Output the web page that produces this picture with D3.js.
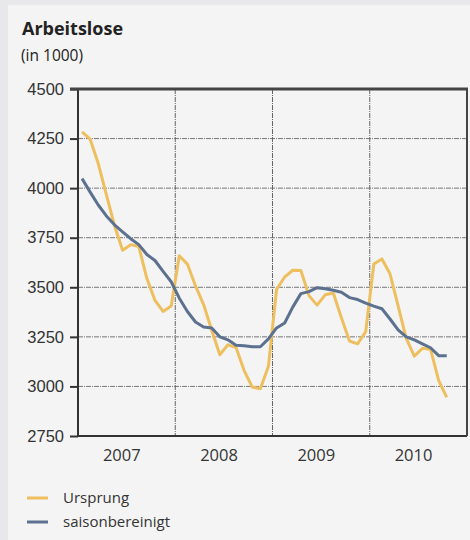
<!DOCTYPE html>
<html>
<head>
<meta charset="utf-8">
<script src="https://cdn.jsdelivr.net/npm/d3@7"></script>
<style>
  body { margin: 0; background: #e8e8ea; }
  svg { display: block; font-family: "Open Sans", "Noto Sans", sans-serif; }
</style>
</head>
<body>
<div id="chart"></div>
<script>
// monthly values, Jan 2007 .. Oct 2010 (in 1000)
var ursprung = [4284, 4247, 4124, 3967, 3812, 3687, 3715, 3706, 3544, 3434, 3378, 3406,
                3659, 3617, 3507, 3413, 3283, 3160, 3210, 3196, 3080, 2997, 2988, 3102,
                3489, 3552, 3586, 3585, 3458, 3410, 3462, 3471, 3346, 3229, 3215, 3276,
                3617, 3643, 3568, 3406, 3242, 3153, 3192, 3188, 3031, 2945];
var saison = [4048, 3980, 3915, 3860, 3815, 3780, 3745, 3715, 3665, 3635, 3580, 3528,
              3445, 3378, 3325, 3300, 3295, 3250, 3235, 3208, 3205, 3200, 3200, 3240,
              3295, 3320, 3400, 3468, 3478, 3498, 3493, 3485, 3475, 3448, 3438, 3420,
              3405, 3392, 3340, 3285, 3250, 3235, 3215, 3195, 3155, 3155];
var years = ["2007", "2008", "2009", "2010"];
var yTicks = [2750, 3000, 3250, 3500, 3750, 4000, 4250, 4500];
var seriesNames = ["Ursprung", "saisonbereinigt"];
var colors = ["#eebf5e", "#5c7190"];

var width = 470, height = 540;
var margin = {left: 78, right: 467, top: 89, bottom: 436};

var svg = d3.select("#chart").append("svg")
  .attr("width", width)
  .attr("height", height);

// panel
svg.append("rect")
  .attr("x", 8).attr("y", 5)
  .attr("width", width - 8).attr("height", height - 5)
  .attr("fill", "#f4f4f4");

var x = d3.scaleLinear().domain([0, 48]).range([margin.left, margin.right]);
var y = d3.scaleLinear().domain([2750, 4500]).range([margin.bottom, margin.top]);

// title
svg.append("text").attr("x", 22).attr("y", 35)
  .text("Arbeitslose")
  .style("font-size", "18px").style("font-weight", "bold").attr("fill", "#222");
svg.append("text").attr("x", 21).attr("y", 61)
  .text("(in 1000)")
  .style("font-size", "15.5px").attr("fill", "#222");

// horizontal grid
svg.append("g").selectAll("line")
  .data(yTicks.slice(1, -1))
  .join("line")
    .attr("x1", margin.left).attr("x2", margin.right)
    .attr("y1", d => y(d)).attr("y2", d => y(d))
    .attr("stroke", "#777").attr("stroke-width", 1)
    .attr("stroke-dasharray", "5,1,1,1");

// vertical grid at year boundaries
svg.append("g").selectAll("line")
  .data([12, 24, 36])
  .join("line")
    .attr("x1", d => x(d)).attr("x2", d => x(d))
    .attr("y1", margin.top).attr("y2", margin.bottom)
    .attr("stroke", "#666").attr("stroke-width", 1)
    .attr("stroke-dasharray", "5,1,1,1");

// y axis
var yAxis = svg.append("g")
  .attr("transform", "translate(" + margin.left + ",0)")
  .call(d3.axisLeft(y).tickValues(yTicks).tickSize(8).tickPadding(6).tickFormat(d3.format("d")));
yAxis.select(".domain").remove();
yAxis.selectAll("line").attr("stroke", "#333").attr("stroke-width", 2);
yAxis.selectAll("text").style("font-size", "16.5px").attr("fill", "#333");

// frame
svg.append("line").attr("x1", margin.left).attr("x2", margin.left)
  .attr("y1", margin.top - 1).attr("y2", margin.bottom + 1)
  .attr("stroke", "#333").attr("stroke-width", 2);
svg.append("line").attr("x1", margin.left).attr("x2", margin.right)
  .attr("y1", margin.bottom).attr("y2", margin.bottom)
  .attr("stroke", "#333").attr("stroke-width", 2);
svg.append("line").attr("x1", margin.left - 8).attr("x2", margin.right + 1)
  .attr("y1", margin.top).attr("y2", margin.top)
  .attr("stroke", "#444").attr("stroke-width", 3);
svg.append("line").attr("x1", margin.right).attr("x2", margin.right)
  .attr("y1", margin.top).attr("y2", margin.bottom)
  .attr("stroke", "#444").attr("stroke-width", 2);

// year labels
svg.append("g").selectAll("text")
  .data(years)
  .join("text")
    .attr("x", (d, i) => x(i * 12 + 5.4))
    .attr("y", margin.bottom + 25)
    .attr("text-anchor", "middle")
    .style("font-size", "16.5px").attr("fill", "#333")
    .text(d => d);

// lines
var line = d3.line()
  .x((d, i) => x(i + 0.5))
  .y(d => y(d));

[ursprung, saison].forEach(function(s, k) {
  svg.append("path")
    .datum(s)
    .attr("d", line)
    .attr("fill", "none")
    .attr("stroke", colors[k])
    .attr("stroke-width", 3)
    .attr("stroke-linejoin", "round");
});

// legend
var legend = svg.append("g").selectAll("g")
  .data(seriesNames)
  .join("g")
    .attr("transform", (d, i) => "translate(27," + (498 + i * 24) + ")");
legend.append("line")
  .attr("x1", 0).attr("x2", 21)
  .attr("stroke", (d, i) => colors[i]).attr("stroke-width", 3);
legend.append("text")
  .attr("x", 36).attr("y", 5)
  .style("font-size", "15px").attr("fill", "#333")
  .text(d => d);
</script>
</body>
</html>
